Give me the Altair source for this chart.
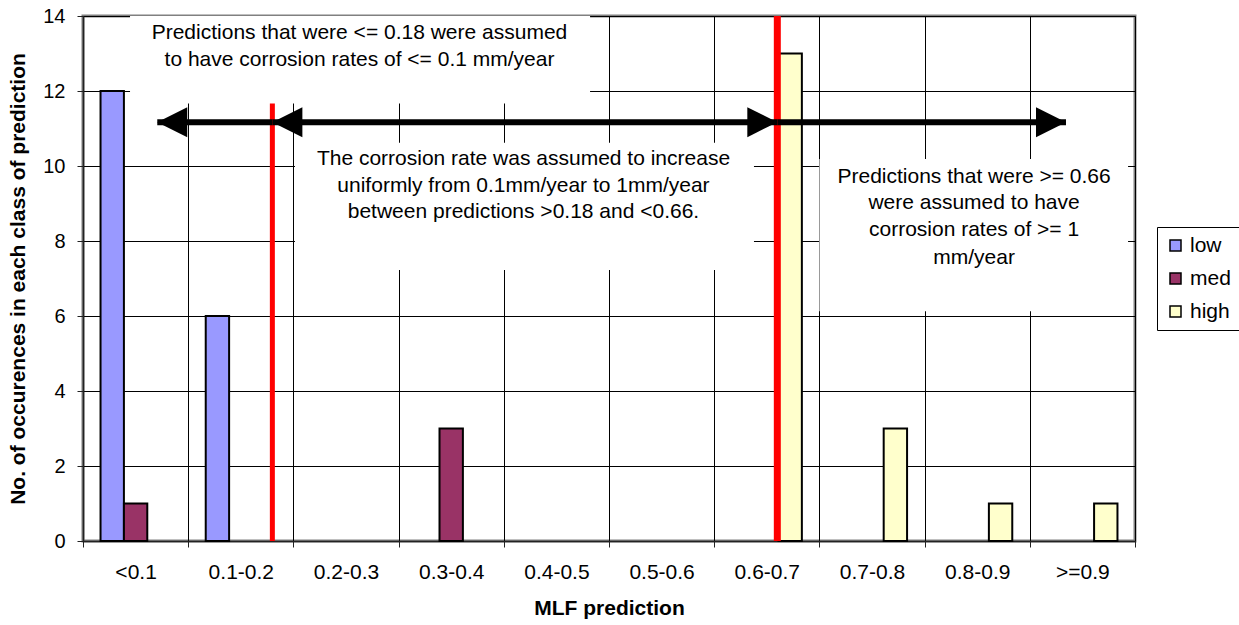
import altair as alt
import pandas as pd

# Histogram of MLF predictions per corrosion class
CLASSES = ["<0.1", "0.1-0.2", "0.2-0.3", "0.3-0.4", "0.4-0.5",
           "0.5-0.6", "0.6-0.7", "0.7-0.8", "0.8-0.9", ">=0.9"]
SERIES = ["low", "med", "high"]
LOW = [12, 6, 0, 0, 0, 0, 0, 0, 0, 0]
MED = [1, 0, 0, 3, 0, 0, 0, 0, 0, 0]
HIGH = [0, 0, 0, 0, 0, 0, 13, 3, 1, 1]
COLORS = ["#9999FF", "#993366", "#FFFFCC"]

Y_TITLE = "No. of occurences in each class of prediction"
X_TITLE = "MLF prediction"

# Thresholds on the 0..1 prediction scale
CUTS = [0.18, 0.66]
CUT_TOPS = [11.67, 14.0]
CUT_WIDTHS = [5, 7]

# Arrows showing the three prediction regimes
ARROW_Y = 11.17
ARROW_START = [0.0706, 0.18, 0.66]
ARROW_END = [0.18, 0.66, 0.9344]
HEAD_X = [0.0706, 0.18, 0.66, 0.9344]
HEAD_DIR = ["left", "left", "right", "right"]

# Explanatory notes (white boxes with centred lines of text)
BOX_X0 = [0.0447, 0.2015, 0.7000]
BOX_X1 = [0.4820, 0.6378, 0.9934]
BOX_Y0 = [11.67, 7.23, 6.13]
BOX_Y1 = [14.0, 10.62, 10.19]

NOTE_LINES = [
    "Predictions that were <= 0.18 were assumed",
    "to have corrosion rates of <= 0.1 mm/year",
    "The corrosion rate was assumed to increase",
    "uniformly from 0.1mm/year to 1mm/year",
    "between predictions >0.18 and <0.66.",
    "Predictions that were >= 0.66",
    "were assumed to have",
    "corrosion rates of >= 1",
    "mm/year",
]
NOTE_X = [0.2628, 0.2628, 0.4187, 0.4187, 0.4187, 0.847, 0.847, 0.847, 0.847]
NOTE_Y = [13.55, 12.83, 10.18, 9.47, 8.78, 9.715, 9.005, 8.293, 7.555]

FONT = "Liberation Sans"

rows = []
for name, vals in zip(SERIES, [LOW, MED, HIGH]):
    for cls, v in zip(CLASSES, vals):
        if v > 0:
            rows.append({"cls": cls, "series": name, "count": v})
bars_df = pd.DataFrame(rows)

y_scale = alt.Scale(domain=[0, 14], nice=False, zero=True)
ux = alt.Scale(domain=[0, 1], nice=False, zero=False)


def y_enc(field):
    # every layer shares the count axis, so all carry the same title
    return alt.Y(field, scale=y_scale, title=Y_TITLE)


bars = alt.Chart(bars_df).mark_bar(stroke="black", strokeWidth=2).encode(
    x=alt.X("cls:N", sort=CLASSES,
            scale=alt.Scale(domain=CLASSES, paddingInner=0, paddingOuter=0),
            axis=alt.Axis(title=X_TITLE, tickBand="extent", grid=True,
                          labelAngle=0, labelFontSize=21, labelPadding=14,
                          titlePadding=15)),
    xOffset=alt.XOffset("series:N",
                        scale=alt.Scale(domain=SERIES, paddingInner=0,
                                        paddingOuter=0.75)),
    y=alt.Y("count:Q", scale=y_scale, title=Y_TITLE,
            axis=alt.Axis(values=list(range(0, 15, 2)),
                          labelFontSize=20, labelPadding=12, titlePadding=14)),
    color=alt.Color("series:N",
                    scale=alt.Scale(domain=SERIES, range=COLORS),
                    legend=alt.Legend(orient="none", legendX=1074, legendY=211,
                                      title=None, symbolType="square",
                                      symbolSize=121, symbolStrokeColor="black",
                                      symbolStrokeWidth=1.5, labelFontSize=21,
                                      labelOffset=4, rowPadding=11, padding=8,
                                      strokeColor="black", fillColor="white")),
)

boxes = alt.Chart(pd.DataFrame({"x0": BOX_X0, "x1": BOX_X1,
                                "y0": BOX_Y0, "y1": BOX_Y1})).mark_rect(
    fill="white", stroke=None
).encode(
    x=alt.X("x0:Q", scale=ux, axis=None),
    x2="x1:Q",
    y=y_enc("y0:Q"),
    y2="y1:Q",
)

notes = alt.Chart(pd.DataFrame({"t": NOTE_LINES, "x": NOTE_X, "y": NOTE_Y})).mark_text(
    font=FONT, fontSize=21, color="black", align="center", baseline="middle"
).encode(
    x=alt.X("x:Q", scale=ux, axis=None),
    y=y_enc("y:Q"),
    text="t:N",
)

cuts = alt.Chart(pd.DataFrame({"x": CUTS, "top": CUT_TOPS, "w": CUT_WIDTHS,
                               "base": [0, 0]})).mark_rule(
    color="#FF0000", strokeCap="butt"
).encode(
    x=alt.X("x:Q", scale=ux, axis=None),
    y=y_enc("base:Q"),
    y2="top:Q",
    strokeWidth=alt.StrokeWidth("w:Q", scale=None, legend=None),
)

shafts = alt.Chart(pd.DataFrame({"a": ARROW_START, "b": ARROW_END,
                                 "y": [ARROW_Y] * 3})).mark_rule(
    color="black", strokeWidth=6, strokeCap="butt"
).encode(
    x=alt.X("a:Q", scale=ux, axis=None),
    x2="b:Q",
    y=y_enc("y:Q"),
)

HEAD_PATH = {"left": "M0,0L2,-1L2,1Z", "right": "M0,0L-2,-1L-2,1Z"}
heads = alt.Chart(pd.DataFrame({"x": HEAD_X, "y": [ARROW_Y] * 4,
                                "shape": [HEAD_PATH[d] for d in HEAD_DIR]})).mark_point(
    filled=True, color="black", opacity=1, size=900, strokeWidth=0
).encode(
    x=alt.X("x:Q", scale=ux, axis=None),
    y=y_enc("y:Q"),
    shape=alt.Shape("shape:N", scale=None, legend=None),
)

chart = alt.layer(bars, boxes, notes, cuts, shafts, heads).resolve_scale(
    x="independent"
).properties(
    width=1052, height=525,
    autosize=alt.AutoSizeParams(type="none"),
    padding={"left": 83, "top": 16, "right": 104, "bottom": 84},
    background="white",
).configure(
    font=FONT
).configure_view(
    stroke="#808080", strokeWidth=3
).configure_axis(
    labelFont=FONT, titleFont=FONT, labelColor="black", titleColor="black",
    titleFontSize=21, titleFontWeight="bold",
    domainColor="#222222", domainWidth=1.5,
    tickColor="#222222", tickSize=6, tickWidth=1,
    gridColor="#000000", gridWidth=1, gridOpacity=1,
).configure_legend(
    labelFont=FONT, labelColor="black"
)

chart.save("out.html", embed_options={"renderer": "svg", "actions": False})
